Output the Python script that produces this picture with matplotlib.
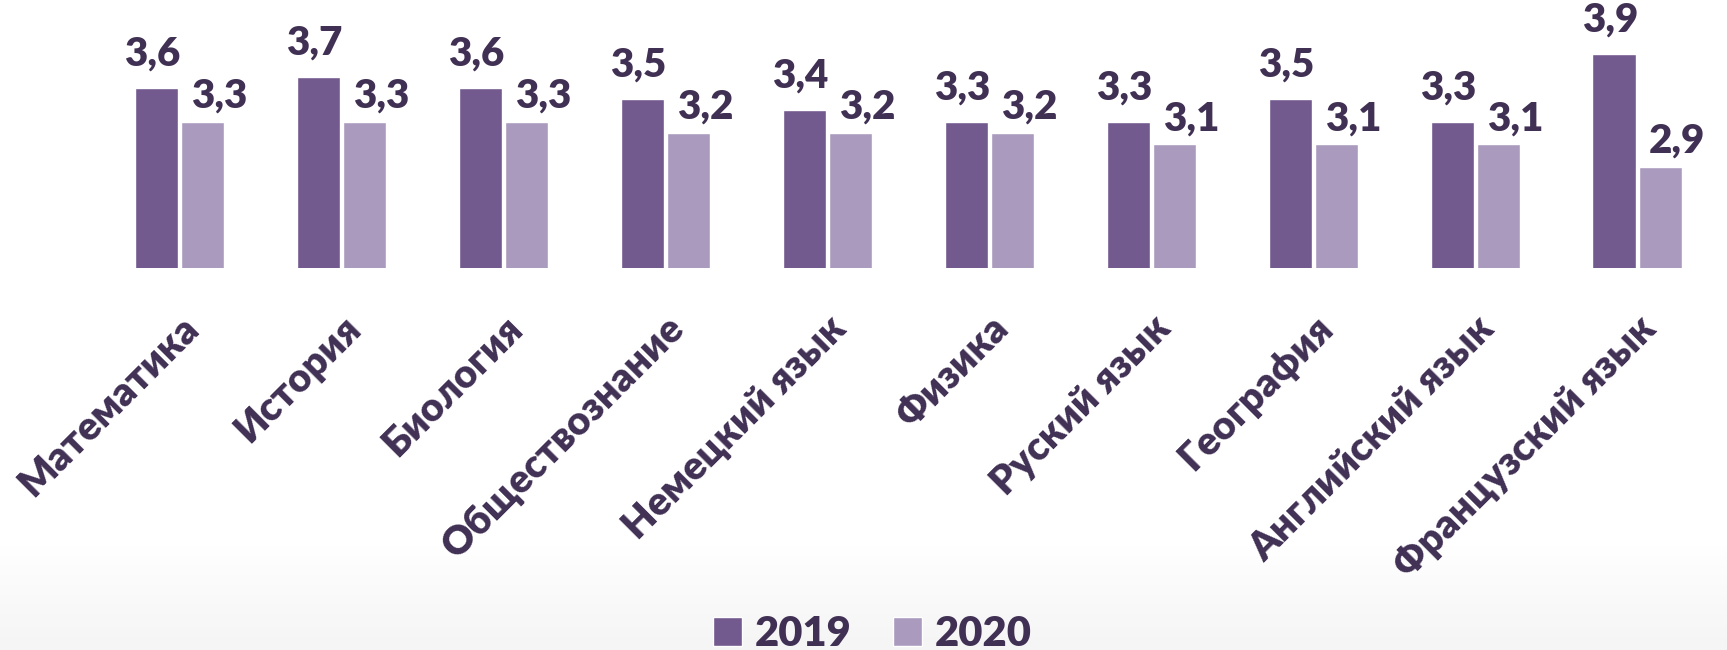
import numpy as np
import matplotlib
matplotlib.use("Agg")
import matplotlib.pyplot as plt

plt.rcParams['font.family'] = ['Lato', 'Open Sans', 'DejaVu Sans']

subjects = ['Математика', 'История', 'Биология', 'Обществознание', 'Немецкий язык',
            'Физика', 'Руский язык', 'География', 'Английский язык', 'Французский язык']
values_2019 = [3.6, 3.7, 3.6, 3.5, 3.4, 3.3, 3.3, 3.5, 3.3, 3.9]
values_2020 = [3.3, 3.3, 3.3, 3.2, 3.2, 3.2, 3.1, 3.1, 3.1, 2.9]
years = ['2019', '2020']

dark = '#72598e'
light = '#aa9bbe'
text_col = '#403054'

fig = plt.figure(figsize=(17.27, 6.5), dpi=100)

# faint grey gradient at the bottom of the slide
bg = fig.add_axes([0, 0, 1, 1], zorder=-1)
grad = np.linspace(0, 1, 200).reshape(-1, 1)
bg.imshow(grad, aspect='auto', cmap=matplotlib.colors.LinearSegmentedColormap.from_list(
    'g', [(0, '#ffffff'), (0.84, '#ffffff'), (1, '#f5f5f5')]), extent=[0, 1, 0, 1], origin='upper')
bg.axis('off')

ax = fig.add_axes([0.057, 0.588, 0.938, 0.412])
ax.patch.set_alpha(0)
x = np.arange(len(subjects))
w = 0.27
b1 = ax.bar(x - 0.142, values_2019, w, color=dark, edgecolor='white', linewidth=1, label=years[0])
b2 = ax.bar(x + 0.142, values_2020, w, color=light, edgecolor='white', linewidth=1, label=years[1])

ax.set_ylim(2.0, 4.38)
ax.set_xlim(-0.5, len(subjects) - 0.5)

for rect, v in zip(b1, values_2019):
    ax.annotate(f'{v:.1f}'.replace('.', ','), (rect.get_x() + rect.get_width() / 2, v),
                xytext=(-3, 11), textcoords='offset points', ha='center', va='bottom',
                fontsize=29, fontweight='heavy', color=text_col)
for rect, v in zip(b2, values_2020):
    ax.annotate(f'{v:.1f}'.replace('.', ','), (rect.get_x() + rect.get_width() / 2, v),
                xytext=(12, 5), textcoords='offset points', ha='center', va='bottom',
                fontsize=29, fontweight='heavy', color=text_col)

ax.set_xticks(x + 0.0)
ax.set_xticklabels(subjects, rotation=45, ha='right', rotation_mode='anchor',
                   fontsize=28.5, fontweight='heavy', color=text_col)
ax.tick_params(axis='x', length=0, pad=30)
ax.set_yticks([])
for s in ax.spines.values():
    s.set_visible(False)

leg = fig.legend(loc='lower center', bbox_to_anchor=(0.505, -0.062), ncol=2, frameon=False,
                 handlelength=0.7, handleheight=0.7, handletextpad=0.3, columnspacing=1.0,
                 prop={'size': 30, 'weight': 'heavy'})
for t in leg.get_texts():
    t.set_color(text_col)

fig.savefig('out.png', dpi=100)
